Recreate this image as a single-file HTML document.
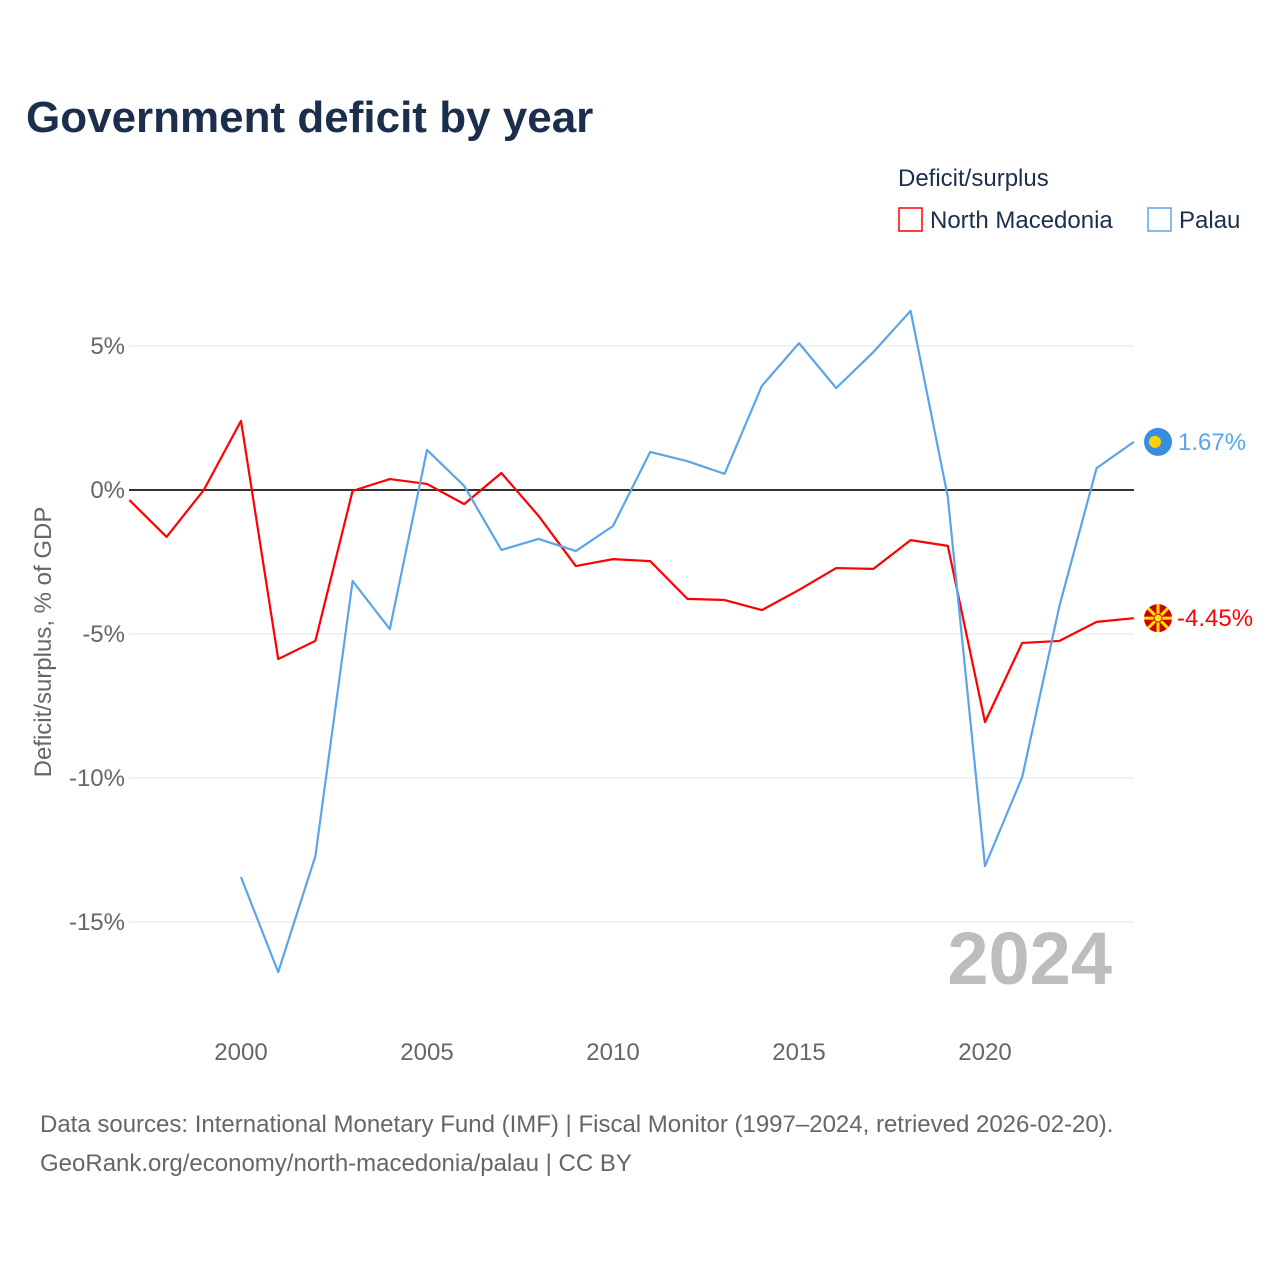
<!DOCTYPE html>
<html><head><meta charset="utf-8"><style>
body{margin:0;background:#fff;width:1280px;height:1280px;overflow:hidden;font-family:"Liberation Sans",sans-serif}
</style></head><body>
<svg id="chart" width="1280" height="1280" xmlns="http://www.w3.org/2000/svg" font-family="Liberation Sans, sans-serif">
<text x="26" y="132" font-size="44" font-weight="bold" fill="#1b2f4d">Government deficit by year</text>
<text x="898" y="186" font-size="24" fill="#1b2f4d">Deficit/surplus</text>
<g>
<rect x="899" y="208" width="23" height="23" fill="none" stroke="#ff0000" stroke-width="1.5"/>
<text x="930" y="228" font-size="24" fill="#1b2f4d">North Macedonia</text></g>
<g>
<rect x="1148" y="208" width="23" height="23" fill="none" stroke="#5aa5ea" stroke-width="1.5"/>
<text x="1179" y="228" font-size="24" fill="#1b2f4d">Palau</text></g>
<g id="grid"></g>
<text x="1112" y="984" font-size="74" font-weight="bold" fill="#bdbdbd" text-anchor="end">2024</text>
<g id="series"></g>
<text transform="translate(51,642) rotate(-90)" font-size="24" fill="#666" text-anchor="middle">Deficit/surplus, % of GDP</text>
<text x="40" y="1132" font-size="24" fill="#666">Data sources: International Monetary Fund (IMF) | Fiscal Monitor (1997–2024, retrieved 2026-02-20).</text>
<text x="40" y="1171" font-size="24" fill="#666">GeoRank.org/economy/north-macedonia/palau | CC BY</text>
</svg>
<script>
const years=[1997,1998,1999,2000,2001,2002,2003,2004,2005,2006,2007,2008,2009,2010,2011,2012,2013,2014,2015,2016,2017,2018,2019,2020,2021,2022,2023,2024];
const macedonia=[-0.35,-1.63,0,2.4,-5.87,-5.24,-0.03,0.38,0.21,-0.49,0.59,-0.9,-2.64,-2.4,-2.47,-3.78,-3.82,-4.17,-3.47,-2.71,-2.74,-1.74,-1.94,-8.06,-5.31,-5.24,-4.58,-4.45];
const palau=[null,null,null,-13.44,-16.74,-12.71,-3.16,-4.83,1.39,0.14,-2.08,-1.70,-2.12,-1.25,1.32,1.0,0.56,3.61,5.1,3.54,4.79,6.22,-0.24,-13.06,-9.97,-4.03,0.76,1.67];
const yTicks=[5,0,-5,-10,-15];
const yTickLabels=["5%","0%","-5%","-10%","-15%"];
const xTicks=[2000,2005,2010,2015,2020];
const NS="http://www.w3.org/2000/svg";
const x=v=>241+(v-2000)*37.2;
const y=v=>490-v*28.8;
function mk(tag,attrs,parent){const e=document.createElementNS(NS,tag);for(const k in attrs)e.setAttribute(k,attrs[k]);parent.appendChild(e);return e;}
const grid=document.getElementById('grid'),ser=document.getElementById('series');
yTicks.forEach((t,i)=>{
 const l=mk('line',{x1:129,x2:1134,y1:y(t),y2:y(t),stroke:t===0?'#333':'#e6e6e6','stroke-width':t===0?2:1},grid);
 
 
 const tx=mk('text',{x:125,y:y(t)+8,'font-size':24,fill:'#666','text-anchor':'end'},grid);tx.textContent=yTickLabels[i];
 
 
});
xTicks.forEach(t=>{const tx=mk('text',{x:x(t),y:1060,'font-size':24,fill:'#666','text-anchor':'middle'},grid);tx.textContent=t;
 
 });
function line(vals,color,name){
 let d='';vals.forEach((v,i)=>{if(v===null)return;d+=(d?'L':'M')+x(years[i])+','+y(v);});
 const p=mk('path',{d:d,fill:'none',stroke:color,'stroke-width':2.2,'stroke-linejoin':'round'},ser);
 
 
}
line(macedonia,'#ff0000','line-north-macedonia');
line(palau,'#5aa5ea','line-palau');
const lp=palau[palau.length-1],lm=macedonia[macedonia.length-1];
const cp=mk('circle',{cx:1158,cy:y(lp),r:14,fill:'#3a8de0'},ser);


mk('circle',{cx:1155,cy:y(lp),r:6,fill:'#ffd200'},ser);
const cm=mk('circle',{cx:1158,cy:y(lm),r:14,fill:'#d20000'},ser);


for(let a=0;a<8;a++){const r=a*Math.PI/4;mk('line',{x1:1158,y1:y(lm),x2:1158+14*Math.cos(r),y2:y(lm)+14*Math.sin(r),stroke:'#ffe600','stroke-width':3},ser);}
mk('circle',{cx:1158,cy:y(lm),r:4,fill:'#ffe600',stroke:'#d20000','stroke-width':1},ser);
const tp=mk('text',{x:1178,y:y(lp)+8,'font-size':24,fill:'#5aa5ea'},ser);tp.textContent=lp.toFixed(2)+'%';


const tm=mk('text',{x:1177,y:y(lm)+8,'font-size':24,fill:'#ff0000'},ser);tm.textContent=lm.toFixed(2)+'%';


</script>
</body></html>
